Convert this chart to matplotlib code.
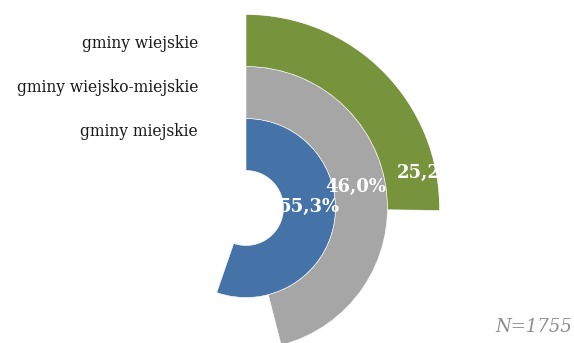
import numpy as np
import matplotlib.pyplot as plt

# share of each municipality type (percent), innermost ring first
categories = ['gminy miejskie', 'gminy wiejsko-miejskie', 'gminy wiejskie']
values = [55.3, 46.0, 25.2]
value_labels = ['55,3%', '46,0%', '25,2%']
colors = ['#4572A7', '#A6A6A6', '#77933C']
note = 'N=1755'

W, H = 574, 343
fig = plt.figure(figsize=(W / 100, H / 100), dpi=100)

# ring geometry in pixels
cx, cy = 246, H - 208
hole = 37.5
ring = 52.0
R = hole + ring * len(values)

ax = fig.add_axes([(cx - R) / W, (cy - R) / H, 2 * R / W, 2 * R / H], projection='polar')
ax.set_theta_zero_location('N')
ax.set_theta_direction(-1)
ax.set_ylim(0, R)
ax.set_axis_off()

for i, (v, c) in enumerate(zip(values, colors)):
    ax.bar(x=0, height=ring, width=2 * np.pi * v / 100, bottom=hole + i * ring,
           align='edge', color=c, edgecolor='white', linewidth=0.4)

# data labels (angle in degrees clockwise from top, radius in px)
label_pos = [(89, 63), (79, 112), (79, 185)]
for (deg, r), txt in zip(label_pos, value_labels):
    ax.text(np.deg2rad(deg), r, txt, ha='center', va='center', color='white',
            fontsize=13, fontweight='bold', family='DejaVu Serif', clip_on=True)

label_y = [131, 88, 44]
for name, y in zip(categories, label_y):
    fig.text(198 / W, 1 - y / H, name, ha='right', va='center',
             fontsize=11.2, family='DejaVu Serif', color='#1a1a1a')

fig.text(572 / W, 1 - 327 / H, note, ha='right', va='center', fontsize=13,
         style='italic', family='DejaVu Serif', color='#8c8c8c')

fig.savefig('out.png', dpi=100)
